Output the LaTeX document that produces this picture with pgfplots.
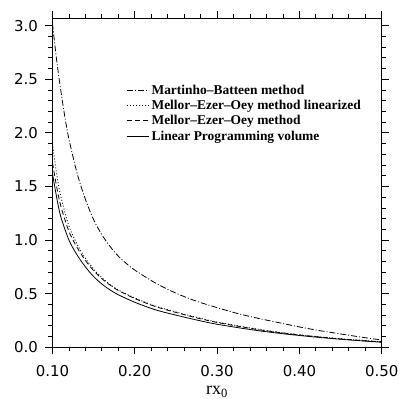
\documentclass[border=0pt]{standalone}
\usepackage{pgfplots}
\pgfplotsset{compat=1.18}
\usepackage{fontspec}
\setmainfont{Liberation Serif}
\newfontfamily\ticksfont{DejaVu Sans}

\pgfplotstableread{
x y
0.100 3.02
0.105 2.68
0.110 2.40
0.115 2.15
0.120 1.94
0.130 1.62
0.140 1.38
0.150 1.19
0.160 1.05
0.170 0.94
0.180 0.85
0.190 0.78
0.200 0.72
0.225 0.60
0.250 0.505
0.275 0.43
0.300 0.37
0.325 0.315
0.350 0.27
0.375 0.23
0.400 0.19
0.425 0.155
0.450 0.125
0.475 0.095
0.500 0.068
}\mb

\pgfplotstableread{
x y
0.100 1.90
0.105 1.62
0.110 1.41
0.120 1.13
0.130 0.96
0.140 0.83
0.150 0.73
0.160 0.65
0.170 0.585
0.180 0.535
0.200 0.46
0.225 0.385
0.250 0.33
0.275 0.28
0.300 0.236
0.350 0.168
0.400 0.117
0.450 0.08
0.500 0.052
}\meolin

\pgfplotstableread{
x y
0.100 1.72
0.105 1.50
0.110 1.32
0.120 1.08
0.130 0.93
0.140 0.81
0.150 0.715
0.160 0.64
0.170 0.58
0.180 0.53
0.200 0.455
0.225 0.38
0.250 0.325
0.275 0.275
0.300 0.232
0.350 0.165
0.400 0.115
0.450 0.078
0.500 0.050
}\meo

\pgfplotstableread{
x y
0.100 1.62
0.105 1.40
0.110 1.22
0.120 1.00
0.130 0.86
0.140 0.75
0.150 0.66
0.160 0.59
0.170 0.535
0.180 0.49
0.200 0.42
0.225 0.35
0.250 0.30
0.275 0.255
0.300 0.215
0.350 0.155
0.400 0.110
0.450 0.075
0.500 0.047
}\lp

\begin{document}
\begin{tikzpicture}
\begin{axis}[
  scale only axis,
  width=329.2bp, height=328.8bp,
  xmin=0.1, xmax=0.5, ymin=0, ymax=3.067,
  xtick={0.1,0.2,0.3,0.4,0.5},
  ytick={0,0.5,1,1.5,2,2.5,3},
  minor xtick={0.12,0.14,0.16,0.18,0.22,0.24,0.26,0.28,0.32,0.34,0.36,0.38,0.42,0.44,0.46,0.48},
  minor ytick={0.1,0.2,0.3,0.4,0.6,0.7,0.8,0.9,1.1,1.2,1.3,1.4,1.6,1.7,1.8,1.9,2.1,2.2,2.3,2.4,2.6,2.7,2.8,2.9},
  xticklabels={0.10,0.20,0.30,0.40,0.50},
  yticklabels={0.0,0.5,1.0,1.5,2.0,2.5,3.0},
  tick align=outside,
  tick pos=both,
  major tick length=7bp,
  minor tick length=4bp,
  every tick/.style={black, line width=0.8bp},
  axis line style={line width=0.9bp},
  ticklabel style={font=\ticksfont\fontsize{15}{17}\selectfont},
  xticklabel style={yshift=-8bp},
  yticklabel style={xshift=-4bp},
  /pgf/number format/assume math mode=true,
  xlabel={rx\textsubscript{0}},
  xlabel style={font=\fontsize{18}{20}\selectfont, at={(axis description cs:0.5,0)}, anchor=base, yshift=-47.5bp, inner sep=0pt},
  legend style={draw=none, fill=none, at={(0.225,0.805)}, anchor=north west,
    font=\bfseries\fontsize{13.5}{16}\selectfont, row sep=0.5bp,
    inner sep=0pt, /tikz/every even column/.append style={column sep=0pt}},
  legend cell align=left,
  legend image code/.code={\draw[#1] (0bp,0bp) -- (22bp,0bp);},
  clip=true,
]
\addplot[black, line width=0.8bp, smooth, dash pattern=on 6bp off 2bp on 1bp off 2bp] table {\mb};
\addlegendentry{Martinho–Batteen method}
\addplot[black, line width=0.8bp, smooth, dash pattern=on 1bp off 2bp] table {\meolin};
\addlegendentry{Mellor–Ezer–Oey method linearized}
\addplot[black, line width=0.8bp, smooth, dash pattern=on 5bp off 3bp] table {\meo};
\addlegendentry{Mellor–Ezer–Oey method}
\addplot[black, line width=0.8bp, smooth] table {\lp};
\addlegendentry{Linear Programming volume}
\end{axis}
\path ([xshift=-52.5bp,yshift=-51.7bp]current axis.south west) rectangle ([xshift=20.3bp,yshift=18.5bp]current axis.north east);
\end{tikzpicture}
\end{document}
